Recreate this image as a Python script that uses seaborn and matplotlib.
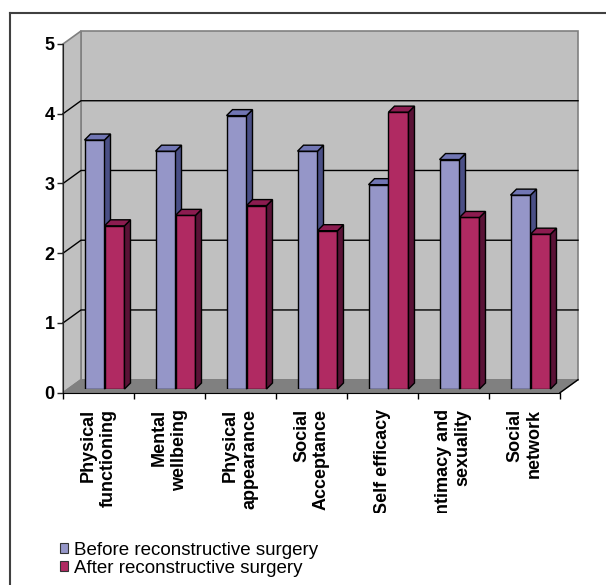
import numpy as np
import pandas as pd
import matplotlib
matplotlib.use("Agg")
import matplotlib.pyplot as plt
import seaborn as sns
from matplotlib.patches import Polygon, Patch
from matplotlib.lines import Line2D
from matplotlib.transforms import Bbox

# data
domains = ["Physical\nfunctioning", "Mental\nwellbeing", "Physical\nappearance",
           "Social\nAcceptance", "Self efficacy", "Intimacy and\nsexuality", "Social\nnetwork"]
before = [3.57, 3.41, 3.92, 3.41, 2.93, 3.29, 2.78]
after = [2.34, 2.49, 2.63, 2.27, 3.97, 2.46, 2.22]
series = ["Before reconstructive surgery", "After reconstructive surgery"]
yticks = [0, 1, 2, 3, 4, 5]

front_col = ["#9596c8", "#b02a62"]
side_col = ["#4a4f86", "#5a1236"]
top_col = ["#7176b4", "#8c1c50"]

df = pd.DataFrame({
    "domain": domains * 2,
    "score": before + after,
    "time": [series[0]] * len(domains) + [series[1]] * len(domains),
})

plt.rcParams["font.family"] = ["Liberation Sans", "DejaVu Sans"]

W, H = 606, 585
fig = plt.figure(figsize=(W / 100, H / 100), dpi=100)

# front plane (axis) and the plane the bars stand in
ax = fig.add_axes([63 / W, (H - 392.7) / H, 497 / W, 348.7 / H])
axb = fig.add_axes([69 / W, (H - 389) / H, 497 / W, 348.7 / H])

sns.barplot(data=df, x="domain", y="score", hue="time", palette=front_col,
            width=0.563, saturation=1, edgecolor="black", linewidth=1,
            ax=axb, legend=False)

ncat = len(domains)
x0, x1 = -0.5, ncat - 0.5
ymax = yticks[-1]
for a in (ax, axb):
    a.set_xlim(x0, x1)
    a.set_ylim(0, ymax)
axb.set_axis_off()
ax.patch.set_visible(False)


def P(a, x, y, dx=0, dy=0):
    px, py = a.transData.transform((x, y))
    return (px + dx, py + dy)


DX, DY = 18, 13  # wall depth in pixels
kw = dict(transform=None, clip_on=False)

# back wall, side wall, floor
ax.add_patch(Polygon([P(ax, x0, 0, DX, DY), P(ax, x1, 0, DX, DY),
                      P(ax, x1, ymax, DX, DY), P(ax, x0, ymax, DX, DY)],
                     facecolor="#c0c0c0", edgecolor="#808080", lw=1.2, zorder=0, **kw))
ax.add_patch(Polygon([P(ax, x0, 0), P(ax, x0, 0, DX, DY),
                      P(ax, x0, ymax, DX, DY), P(ax, x0, ymax)],
                     facecolor="#c0c0c0", edgecolor="#808080", lw=1.2, zorder=0, **kw))
ax.add_patch(Polygon([P(ax, x0, 0), P(ax, x1, 0), P(ax, x1, 0, DX, DY), P(ax, x0, 0, DX, DY)],
                     facecolor="#808080", edgecolor="#808080", lw=1, zorder=0.5, **kw))
a_, b_ = P(ax, x1, 0), P(ax, x1, 0, DX, DY)
ax.add_line(Line2D([a_[0], b_[0]], [a_[1], b_[1]], color="black", lw=1, zorder=1, **kw))

# gridlines on the walls
for y in yticks[1:-1]:
    a_, b_, c_ = P(ax, x0, y), P(ax, x0, y, DX, DY), P(ax, x1, y, DX, DY)
    ax.add_line(Line2D([a_[0], b_[0], c_[0]], [a_[1], b_[1], c_[1]],
                       color="black", lw=1, zorder=0.6, **kw))

# 3D faces for every bar
d = 6
for p in axb.patches:
    w = p.get_width()
    if w <= 0:
        continue
    xc = p.get_x() + w / 2
    i = int(round(xc))
    h = 0 if xc < i else 1
    (xl, yb), (xr, yt) = P(axb, p.get_x(), 0), P(axb, p.get_x() + w, p.get_height())
    base = 2 + 10 * i + 3 * h
    p.set_zorder(base)
    axb.add_patch(Polygon([(xr, yb), (xr, yt), (xr + d, yt + d), (xr + d, yb + d)],
                          facecolor=side_col[h], edgecolor="black", lw=1,
                          zorder=base + 1, **kw))
    axb.add_patch(Polygon([(xl, yt), (xr, yt), (xr + d, yt + d), (xl + d, yt + d)],
                          facecolor=top_col[h], edgecolor="black", lw=1,
                          zorder=base + 2, **kw))

# axes styling
for s in ["top", "right"]:
    ax.spines[s].set_visible(False)
ax.spines["left"].set_color("#222222")
ax.spines["bottom"].set_color("black")
ax.set_yticks(yticks)
ax.tick_params(axis="y", direction="out", length=4.5, width=1, pad=1.5,
               labelsize=13, color="#222222")
for t in ax.get_yticklabels():
    t.set_fontweight("bold")

ax.set_xticks(np.arange(ncat + 1) - 0.5, minor=True)
ax.set_xticks(np.arange(ncat), domains)
ax.tick_params(axis="x", which="minor", direction="out", length=4.5, width=1)
ax.tick_params(axis="x", which="major", length=0, pad=11.5, labelsize=13)
clip = Bbox.from_extents(0, H - 513, W, H - 395)
for t in ax.get_xticklabels():
    t.set_rotation(90)
    t.set_fontweight("bold")
    t.set_multialignment("right")
    t.set_linespacing(1.2)
    t.set_clip_box(clip)
    t.set_clip_on(True)
ax.set_xlabel("")
ax.set_ylabel("")

# legend
handles = [Patch(facecolor=c, edgecolor="#333333", lw=0.8) for c in front_col]
fig.legend(handles, series, loc="upper left", bbox_to_anchor=(60 / W, (H - 542) / H),
           frameon=False, fontsize=13.5, handlelength=0.42, handleheight=0.42,
           handletextpad=0.3, labelspacing=0.05, borderpad=0, borderaxespad=0)

# chart frame
fig.add_artist(Line2D([10 / W, 10 / W], [0, (H - 13) / H], color="#404040", lw=1.5))
fig.add_artist(Line2D([10 / W, 1], [(H - 13) / H, (H - 13) / H], color="#404040", lw=1.5))

plt.savefig("out.png", dpi=100)
